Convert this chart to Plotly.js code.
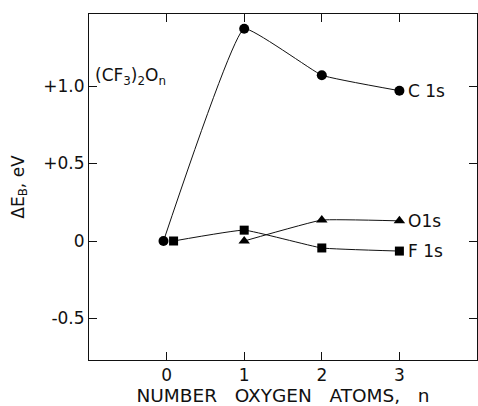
<!DOCTYPE html>
<html>
<head>
<meta charset="utf-8">
<script src="https://cdn.plot.ly/plotly-3.0.1.min.js"></script>
<style>html,body{margin:0;padding:0;background:#fff;}</style>
</head>
<body>
<div id="chart" style="width:478px;height:406px;"></div>
<script>
// Data: shift of binding energy ΔE_B (eV) vs number of O atoms n in (CF3)2On
const nC = [-0.04, 1, 2, 3];
const C1s = [0.0, 1.37, 1.07, 0.97];
const nO = [1, 2, 3];
const O1s = [0.0, 0.135, 0.13];
const nF = [0.09, 1, 2, 3];
const F1s = [0.0, 0.07, -0.045, -0.065];
const xTicks = [0, 1, 2, 3];
const yTickVals = [1.0, 0.5, 0, -0.5];
const yTickText = ['+1.0', '+0.5', '0', '-0.5'];
const seriesLabels = ['C 1s', 'O1s', 'F 1s'];

const FONT = 'DejaVu Sans, sans-serif';
const INK = '#111';
const lineStyle = {color: INK, width: 1, shape: 'spline', smoothing: 0.3};

const traces = [
  {x: nC, y: C1s, mode: 'lines+markers', line: lineStyle,
   marker: {symbol: 'circle', size: 10, color: '#000'}},
  {x: nO, y: O1s, mode: 'lines+markers', line: lineStyle,
   marker: {symbol: 'triangle-up', size: 10, color: '#000'}},
  {x: nF, y: F1s, mode: 'lines+markers', line: lineStyle,
   marker: {symbol: 'square', size: 9, color: '#000'}}
];

const lastPt = (xs, ys) => [xs[xs.length - 1], ys[ys.length - 1]];
const [cx, cy] = lastPt(nC, C1s);
const [ox, oy] = lastPt(nO, O1s);
const [fx, fy] = lastPt(nF, F1s);

const annotations = [
  {x: cx, y: cy, text: seriesLabels[0]},
  {x: ox, y: oy, text: seriesLabels[1]},
  {x: fx, y: fy, text: seriesLabels[2]}
].map(a => Object.assign(a, {xref: 'x', yref: 'y', xanchor: 'left', yanchor: 'middle',
  xshift: 7, showarrow: false, font: {family: FONT, size: 17, color: INK}}));

annotations.push({xref: 'paper', yref: 'y', x: 0, y: 1.06, xanchor: 'left', yanchor: 'middle',
  xshift: 4, showarrow: false, text: '(CF<sub>3</sub>)<sub>2</sub>O<sub>n</sub>',
  font: {family: FONT, size: 17, color: INK}});

const layout = {
  width: 478, height: 406,
  margin: {l: 89, r: 1, t: 14, b: 46, pad: 0},
  paper_bgcolor: '#fff', plot_bgcolor: '#fff',
  showlegend: false,
  font: {family: FONT, size: 17, color: INK},
  xaxis: {
    range: [-1, 4], tickvals: xTicks, ticktext: xTicks.map(String),
    ticks: 'inside', ticklen: 8, tickcolor: INK, tickwidth: 1,
    showline: true, linecolor: INK, linewidth: 1, mirror: 'ticks',
    showgrid: false, zeroline: false,
    tickfont: {family: FONT, size: 17, color: INK},
    title: {text: 'NUMBER\u00A0\u00A0\u00A0OXYGEN\u00A0\u00A0\u00A0ATOMS,\u00A0\u00A0\u00A0n', font: {family: FONT, size: 18.5, color: INK}, standoff: 4}
  },
  yaxis: {
    range: [-0.768, 1.465], tickvals: yTickVals, ticktext: yTickText,
    ticks: 'inside', ticklen: 8, tickcolor: INK, tickwidth: 1,
    showline: true, linecolor: INK, linewidth: 1, mirror: 'ticks',
    showgrid: false, zeroline: false,
    tickfont: {family: FONT, size: 17, color: INK},
    title: {text: '\u0394E<sub>B</sub>, eV', font: {family: FONT, size: 17, color: INK}, standoff: 14}
  },
  annotations: annotations
};

Plotly.newPlot('chart', traces, layout, {displayModeBar: false, staticPlot: true});
</script>
</body>
</html>
